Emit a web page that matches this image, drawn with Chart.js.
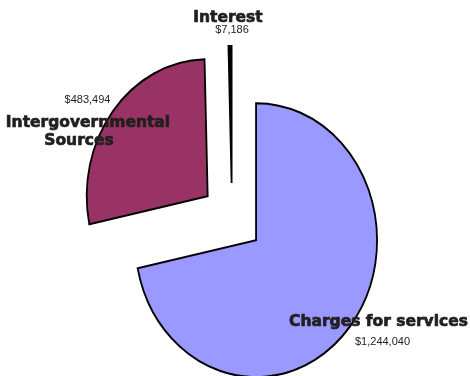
<!DOCTYPE html>
<html>
<head>
<meta charset="utf-8">
<script src="https://cdn.jsdelivr.net/npm/chart.js@4/dist/chart.umd.min.js"></script>
<style>
  html, body { margin: 0; padding: 0; background: #ffffff; }
  #wrap { width: 470px; height: 376px; position: relative; }
</style>
</head>
<body>
<div id="wrap"><canvas id="c" width="470" height="376"></canvas></div>
<script>
// ---- data ----
const categories = ['Charges for services', ['Intergovernmental', 'Sources'], 'Interest'];
const values = [1244040, 483494, 7186];
const valueLabels = ['$1,244,040', '$483,494', '$7,186'];
const sliceColors = ['#9999FF', '#993366', '#000000'];

// ---- layout / style ----
const EXPLODE = 31;      // px each slice is pulled out along its mid angle
const Y_SCALE = 1.132;   // vertical stretch to get the elliptical pie
const labelLayout = [
  { name: [[378.5, 326]], value: [382.5, 344.5] },
  { name: [[88, 127], [79, 144.5]], value: [87.5, 103] },
  { name: [[228, 21.5]], value: [232, 33] }
];

const explodePlugin = {
  id: 'explode',
  beforeDatasetDraw(chart, args) {
    const ctx = chart.ctx;
    args.meta.data.forEach((arc) => {
      const mid = (arc.startAngle + arc.endAngle) / 2;
      ctx.save();
      ctx.translate(arc.x, arc.y);
      ctx.scale(1, Y_SCALE);
      ctx.translate(Math.cos(mid) * EXPLODE, Math.sin(mid) * EXPLODE);
      ctx.translate(-arc.x, -arc.y);
      arc.draw(ctx, chart.chartArea);
      ctx.restore();
    });
    return false;
  }
};

const labelPlugin = {
  id: 'sliceLabels',
  afterDraw(chart) {
    const ctx = chart.ctx;
    ctx.save();
    ctx.textAlign = 'center';
    ctx.textBaseline = 'alphabetic';
    chart.data.labels.forEach((lab, i) => {
      const lines = Array.isArray(lab) ? lab : [lab];
      const lay = labelLayout[i];
      ctx.fillStyle = '#231F20';
      ctx.strokeStyle = '#231F20';
      ctx.lineWidth = 0.7;
      ctx.lineJoin = 'round';
      ctx.font = 'bold 15.5px "DejaVu Sans"';
      lines.forEach((ln, k) => {
        ctx.fillText(ln, lay.name[k][0], lay.name[k][1]);
        ctx.strokeText(ln, lay.name[k][0], lay.name[k][1]);
      });
      ctx.font = '11px "Liberation Sans"';
      ctx.fillStyle = '#222222';
      ctx.fillText(valueLabels[i], lay.value[0], lay.value[1]);
    });
    ctx.restore();
  }
};

new Chart(document.getElementById('c'), {
  type: 'pie',
  data: {
    labels: categories,
    datasets: [{
      data: values,
      backgroundColor: sliceColors,
      borderColor: '#000000',
      borderWidth: 1.8,
      borderJoinStyle: 'miter',
      clip: false
    }]
  },
  options: {
    responsive: false,
    animation: false,
    radius: 121,
    layout: { padding: { left: 0, right: 6, top: 60, bottom: 0 } },
    plugins: {
      legend: { display: false },
      tooltip: { enabled: false }
    },
    events: []
  },
  plugins: [explodePlugin, labelPlugin]
});
</script>
</body>
</html>
